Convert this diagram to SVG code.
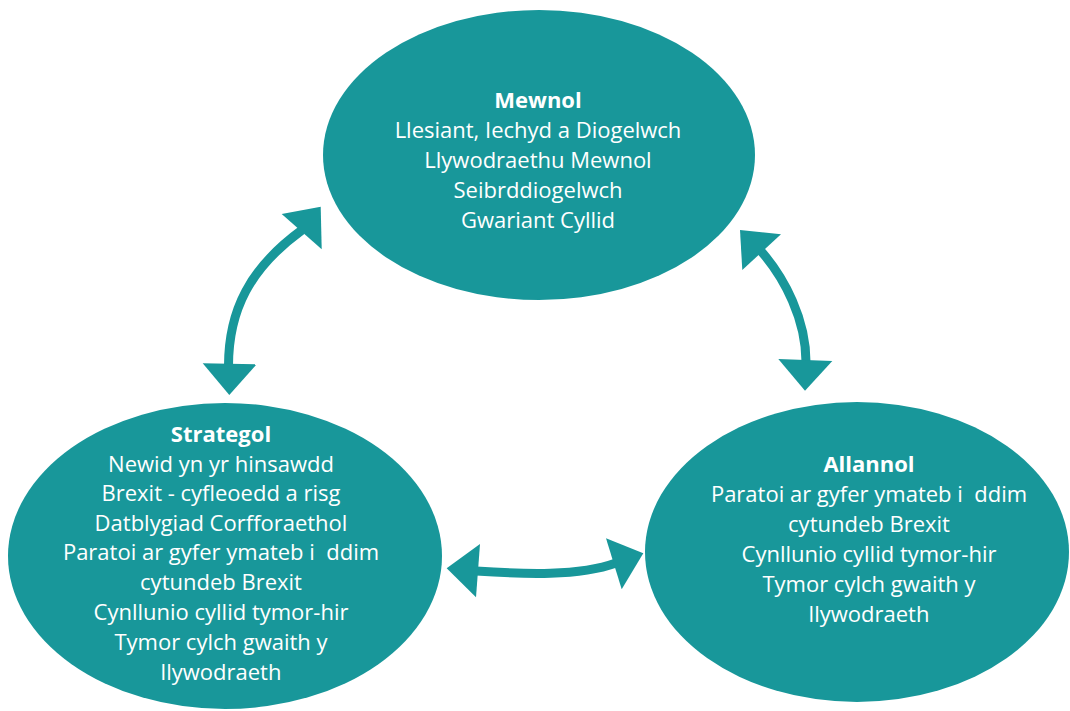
<svg xmlns="http://www.w3.org/2000/svg" width="1070" height="711" viewBox="0 0 1070 711">
<style>
.node{fill:#18979a}
.t{font-family:"Open Sans","Noto Sans","Liberation Sans",sans-serif;font-size:22px;fill:#ffffff;text-anchor:middle;white-space:pre}
.b{font-weight:bold}
.c{fill:none;stroke:#18979a;stroke-width:9}
.ah{fill:#18979a}
</style>
<rect width="1070" height="711" fill="#ffffff"/>
<g id="mewnol">
<ellipse class="node" cx="539" cy="155" rx="216" ry="145"/>
<text class="t b" x="538" y="108">Mewnol</text>
<text class="t" x="538" y="138">Llesiant, Iechyd a Diogelwch</text>
<text class="t" x="538" y="168">Llywodraethu Mewnol</text>
<text class="t" x="538" y="198">Seibrddiogelwch</text>
<text class="t" x="538" y="228">Gwariant Cyllid</text>
</g>
<g id="strategol">
<ellipse class="node" cx="225" cy="556" rx="217" ry="153"/>
<text class="t b" x="221" y="442">Strategol</text>
<text class="t" x="221" y="472">Newid yn yr hinsawdd</text>
<text class="t" x="221" y="501">Brexit - cyfleoedd a risg</text>
<text class="t" x="221" y="531">Datblygiad Corfforaethol</text>
<text class="t" x="221" y="560">Paratoi ar gyfer ymateb i  ddim</text>
<text class="t" x="221" y="590">cytundeb Brexit</text>
<text class="t" x="221" y="620">Cynllunio cyllid tymor-hir</text>
<text class="t" x="221" y="650">Tymor cylch gwaith y</text>
<text class="t" x="221" y="680">llywodraeth</text>
</g>
<g id="allannol">
<ellipse class="node" cx="857" cy="552" rx="212" ry="150"/>
<text class="t b" x="869" y="472">Allannol</text>
<text class="t" x="869" y="502">Paratoi ar gyfer ymateb i  ddim</text>
<text class="t" x="869" y="532">cytundeb Brexit</text>
<text class="t" x="869" y="562">Cynllunio cyllid tymor-hir</text>
<text class="t" x="869" y="592">Tymor cylch gwaith y</text>
<text class="t" x="869" y="622">llywodraeth</text>
</g>
<g id="connectors">
<path class="c" d="M228.5,366 C228.5,310 250,268 302,230"/>
<polygon class="ah" points="281.7,214 320.7,206.7 321.7,249.3"/>
<polygon class="ah" points="202.7,363.3 256.7,364.3 229.3,395"/>
<path class="c" d="M760,250 C785,278 806,320 806,362"/>
<polygon class="ah" points="740,230 781,234.3 742.3,270"/>
<polygon class="ah" points="778.3,359 832.3,361 805,390.7"/>
<path class="c" d="M476,571 C525,574.3 578.6,576.4 616,563"/>
<polygon class="ah" points="446.7,568.3 480,544 476,597.3"/>
<polygon class="ah" points="643.3,553.3 606,538.3 621.7,589.3"/>
</g>
</svg>
